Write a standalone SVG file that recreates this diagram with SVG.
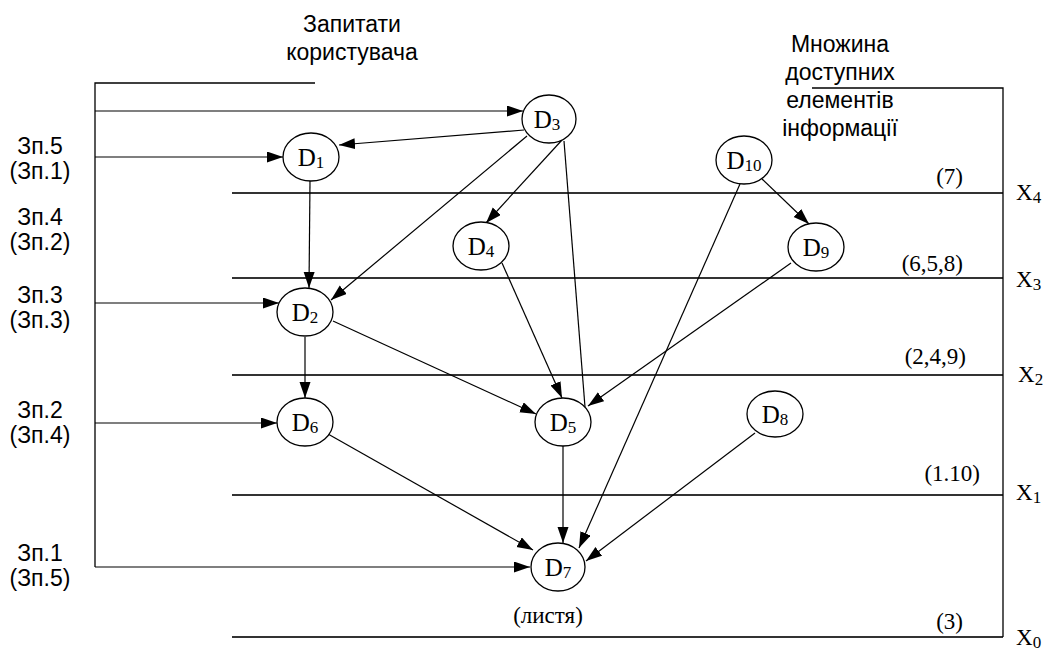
<svg xmlns="http://www.w3.org/2000/svg" width="1046" height="650" viewBox="0 0 1046 650">
<style>
.ln{stroke:#000;stroke-width:1.3;fill:none}
.lv{stroke:#333;stroke-width:1.8;fill:none}
.ed{stroke:#000;stroke-width:1.2;fill:none}
.ar{marker-end:url(#ah)}
.nd ellipse{fill:#fff;stroke:#000;stroke-width:1.3}
.nl{font-family:"Liberation Serif","Times New Roman",serif;font-size:25px;fill:#000;text-anchor:middle}
.sb{font-size:17px}
.ss{font-family:"Liberation Sans",Arial,sans-serif;font-size:23px;fill:#000;text-anchor:middle}
.sr{font-family:"Liberation Serif","Times New Roman",serif;font-size:23px;fill:#000}
</style>
<defs>
<marker id="ah" markerUnits="userSpaceOnUse" markerWidth="17" markerHeight="12" refX="16" refY="5.5" orient="auto">
<path d="M0,0 L16,5.5 L0,11 z" fill="#000"/>
</marker>
</defs>
<rect width="1046" height="650" fill="#fff"/>

<g id="titles">
<text class="ss" x="352" y="32">Запитати</text>
<text class="ss" x="352" y="60">користувача</text>
<text class="ss" x="840" y="52">Множина</text>
<text class="ss" x="840" y="80">доступних</text>
<text class="ss" x="840" y="108">елементів</text>
<text class="ss" x="840" y="136">інформації</text>
</g>

<g id="query-labels">
<text class="ss" x="40" y="154">Зп.5</text>
<text class="ss" x="40" y="179">(Зп.1)</text>
<text class="ss" x="40" y="225">Зп.4</text>
<text class="ss" x="40" y="250">(Зп.2)</text>
<text class="ss" x="40" y="303">Зп.3</text>
<text class="ss" x="40" y="328">(Зп.3)</text>
<text class="ss" x="40" y="418">Зп.2</text>
<text class="ss" x="40" y="443">(Зп.4)</text>
<text class="ss" x="40" y="561">Зп.1</text>
<text class="ss" x="40" y="586">(Зп.5)</text>
</g>

<g id="levels">
<path class="lv" d="M232,193 H1003 M232,278 H1003 M232,375 H1003 M232,495 H1003 M232,637 H1003"/>
<path class="ln" d="M812,88 H1003 V637"/>
<text class="sr" x="963" y="184" text-anchor="end">(7)</text>
<text class="sr" x="963" y="271" text-anchor="end">(6,5,8)</text>
<text class="sr" x="966" y="364" text-anchor="end">(2,4,9)</text>
<text class="sr" x="980" y="481" text-anchor="end">(1.10)</text>
<text class="sr" x="963" y="629" text-anchor="end">(3)</text>
<text class="sr" x="1016" y="200">X<tspan class="sb" dy="3">4</tspan></text>
<text class="sr" x="1016" y="287">X<tspan class="sb" dy="3">3</tspan></text>
<text class="sr" x="1018" y="382">X<tspan class="sb" dy="3">2</tspan></text>
<text class="sr" x="1016" y="500">X<tspan class="sb" dy="3">1</tspan></text>
<text class="sr" x="1016" y="645">X<tspan class="sb" dy="3">0</tspan></text>
</g>

<g id="connectors">
<path class="ln" d="M315,83 H95 V567"/>
<path class="ed ar" d="M95,111 H523"/>
<path class="ed ar" d="M95,157 H283"/>
<path class="ed ar" d="M95,303 H279"/>
<path class="ed ar" d="M95,423 H277"/>
<path class="ed ar" d="M95,567 H530"/>
<path class="ed ar" d="M524,130 L339,145"/>
<path class="ed ar" d="M527,136 L331,300"/>
<path class="ed ar" d="M562,140 L486,223"/>
<path class="ed" d="M564,141 L585,407"/>
<path class="ed ar" d="M310,181 L309,288"/>
<path class="ed ar" d="M305,337 L305,398"/>
<path class="ed ar" d="M333,321 L536,414"/>
<path class="ed ar" d="M502,263 L562,398"/>
<path class="ed ar" d="M791,263 L588,406"/>
<path class="ed ar" d="M762,179 L809,224"/>
<path class="ed ar" d="M740,184 L579,548"/>
<path class="ed ar" d="M563,446 L563,543"/>
<path class="ed ar" d="M328,434 L533,550"/>
<path class="ed ar" d="M755,433 L586,561"/>
</g>

<g id="D1" class="nd"><ellipse cx="311" cy="157" rx="28" ry="24"/><text class="nl" x="311" y="166">D<tspan class="sb" dy="2">1</tspan></text></g>
<g id="D2" class="nd"><ellipse cx="305" cy="312" rx="28" ry="24"/><text class="nl" x="305" y="321">D<tspan class="sb" dy="2">2</tspan></text></g>
<g id="D3" class="nd"><ellipse cx="549" cy="119" rx="27" ry="24"/><text class="nl" x="547" y="128">D<tspan class="sb" dy="2">3</tspan></text></g>
<g id="D4" class="nd"><ellipse cx="481" cy="246" rx="28" ry="24"/><text class="nl" x="481" y="255">D<tspan class="sb" dy="2">4</tspan></text></g>
<g id="D5" class="nd"><ellipse cx="563" cy="422" rx="28" ry="24"/><text class="nl" x="563" y="431">D<tspan class="sb" dy="2">5</tspan></text></g>
<g id="D6" class="nd"><ellipse cx="305" cy="422" rx="28" ry="24"/><text class="nl" x="305" y="431">D<tspan class="sb" dy="2">6</tspan></text></g>
<g id="D7" class="nd"><ellipse cx="558" cy="567" rx="27" ry="24"/><text class="nl" x="558" y="576">D<tspan class="sb" dy="2">7</tspan></text></g>
<g id="D8" class="nd"><ellipse cx="775" cy="414" rx="28" ry="23"/><text class="nl" x="775" y="423">D<tspan class="sb" dy="2">8</tspan></text></g>
<g id="D9" class="nd"><ellipse cx="816" cy="247" rx="28" ry="24"/><text class="nl" x="816" y="256">D<tspan class="sb" dy="2">9</tspan></text></g>
<g id="D10" class="nd"><ellipse cx="744" cy="160" rx="28" ry="24"/><text class="nl" x="744" y="169">D<tspan class="sb" dy="2">10</tspan></text></g>

<g id="leaves-label">
<text class="sr" x="548" y="623" text-anchor="middle">(листя)</text>
</g>
</svg>
